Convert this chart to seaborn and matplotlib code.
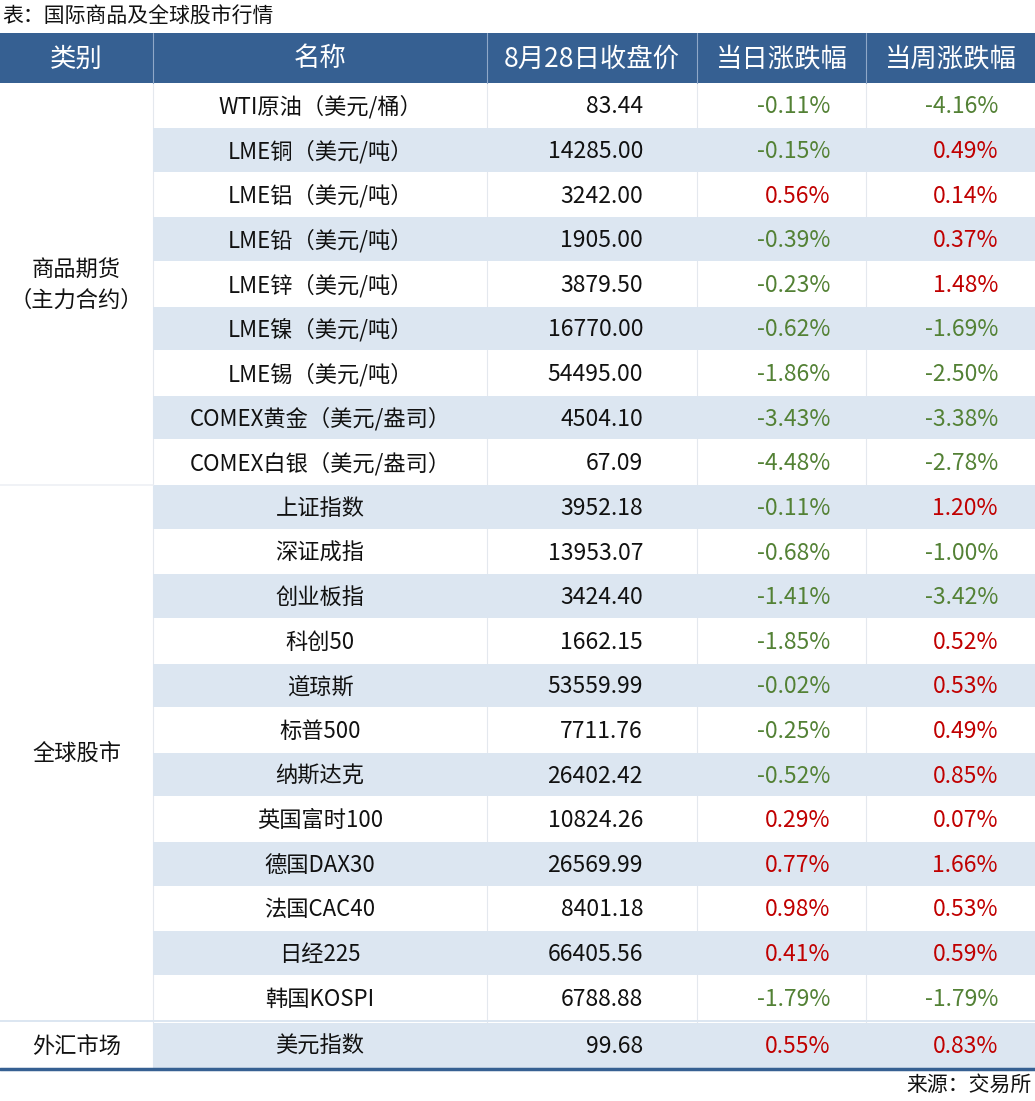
import matplotlib
matplotlib.use("Agg")
import matplotlib.pyplot as plt
import seaborn as sns
from matplotlib.patches import Rectangle

# ─── Data ───────────────────────────────────────────────────────────────────
TITLE = "表：国际商品及全球股市行情"
SOURCE = "来源：交易所"
HEADERS = ["类别", "名称", "8月28日收盘价", "当日涨跌幅", "当周涨跌幅"]

GROUPS = ["商品期货\n（主力合约）", "全球股市", "外汇市场"]
GROUP_SIZES = [9, 12, 1]

NAMES = [
    "WTI原油（美元/桶）", "LME铜（美元/吨）", "LME铝（美元/吨）", "LME铅（美元/吨）",
    "LME锌（美元/吨）", "LME镍（美元/吨）", "LME锡（美元/吨）",
    "COMEX黄金（美元/盎司）", "COMEX白银（美元/盎司）",
    "上证指数", "深证成指", "创业板指", "科创50", "道琼斯", "标普500", "纳斯达克",
    "英国富时100", "德国DAX30", "法国CAC40", "日经225", "韩国KOSPI",
    "美元指数",
]
CLOSE = [
    83.44, 14285.00, 3242.00, 1905.00, 3879.50, 16770.00, 54495.00, 4504.10, 67.09,
    3952.18, 13953.07, 3424.40, 1662.15, 53559.99, 7711.76, 26402.42,
    10824.26, 26569.99, 8401.18, 66405.56, 6788.88,
    99.68,
]
DAY_CHG = [
    -0.11, -0.15, 0.56, -0.39, -0.23, -0.62, -1.86, -3.43, -4.48,
    -0.11, -0.68, -1.41, -1.85, -0.02, -0.25, -0.52,
    0.29, 0.77, 0.98, 0.41, -1.79,
    0.55,
]
WEEK_CHG = [
    -4.16, 0.49, 0.14, 0.37, 1.48, -1.69, -2.50, -3.38, -2.78,
    1.20, -1.00, -3.42, 0.52, 0.53, 0.49, 0.85,
    0.07, 1.66, 0.53, 0.59, -1.79,
    0.83,
]

# ─── Style ──────────────────────────────────────────────────────────────────
HEADER_BG = "#366092"
BAND_BG = "#dce6f1"
GRID = "#e4e8ee"
UP = "#c00000"
DOWN = "#538135"
INK = "#111111"

sns.set_theme(style="white")
plt.rcParams["font.family"] = ["Noto Sans CJK SC", "DejaVu Sans"]

W, H = 1035, 1101
fig = plt.figure(figsize=(W / 100, H / 100), dpi=100)
ax = fig.add_axes([0, 0, 1, 1])
ax.set_xlim(0, W)
ax.set_ylim(H, 0)
ax.axis("off")

col_x = [0, 153, 487, 697, 866, 1035]
head_top, head_bot = 33, 83
row_h = 44.62
fx_top, fx_bot = 1022, 1068
FS = 16

# row extents
rows = []
for i in range(21):
    rows.append((head_bot + i * row_h, head_bot + (i + 1) * row_h))
rows.append((fx_top, fx_bot))

# title
ax.text(2, 17, TITLE, fontsize=15, ha="left", va="center", color=INK)

# header
ax.add_patch(Rectangle((0, head_top), W, head_bot - head_top, color=HEADER_BG, lw=0))
for j, h in enumerate(HEADERS):
    cx = (col_x[j] + col_x[j + 1]) / 2
    ax.text(cx, (head_top + head_bot) / 2 + 1, h, fontsize=19, color="white",
            ha="center", va="center")
for x in col_x[1:-1]:
    ax.plot([x, x], [head_top, head_bot], color="#8fa8c8", lw=0.8)

# banding + rows
for i, (t, b) in enumerate(rows):
    if i % 2 == 1:
        ax.add_patch(Rectangle((col_x[1], t + 0.5), W - col_x[1], b - t - 1,
                               color=BAND_BG, lw=0))
    cy = (t + b) / 2 + 1.5
    ax.text((col_x[1] + col_x[2]) / 2, cy, NAMES[i], fontsize=FS,
            ha="center", va="center", color=INK)
    ax.text(643, cy, f"{CLOSE[i]:.2f}", fontsize=FS + 0.5, ha="right", va="center",
            color=INK)
    for val, xr in ((DAY_CHG[i], 830), (WEEK_CHG[i], 998)):
        ax.text(xr, cy, f"{val:.2f}%", fontsize=FS + 0.5, ha="right", va="center",
                color=UP if val > 0 else DOWN)

# vertical grid lines in body
for x in col_x[1:-1]:
    ax.plot([x, x], [head_bot, fx_bot], color=GRID, lw=0.8, zorder=0.5)

# group cells
start = 0
for g, n in zip(GROUPS, GROUP_SIZES):
    t = rows[start][0]
    b = rows[start + n - 1][1]
    ax.text((col_x[0] + col_x[1]) / 2, (t + b) / 2 + 1, g, fontsize=FS,
            ha="center", va="center", color=INK, linespacing=1.45)
    start += n

# group separators
ax.plot([0, col_x[1]], [rows[9][0], rows[9][0]], color="#edf0f5", lw=1.2)
ax.add_patch(Rectangle((0, rows[20][1]), W, fx_top - rows[20][1], color=BAND_BG, lw=0))

# bottom rule
ax.plot([0, W], [fx_bot + 1, fx_bot + 1], color=HEADER_BG, lw=2.5)

ax.text(W - 3, 1085, SOURCE, fontsize=15, ha="right", va="center", color=INK)

fig.savefig("out.png", dpi=100, facecolor="white")
plt.close(fig)
